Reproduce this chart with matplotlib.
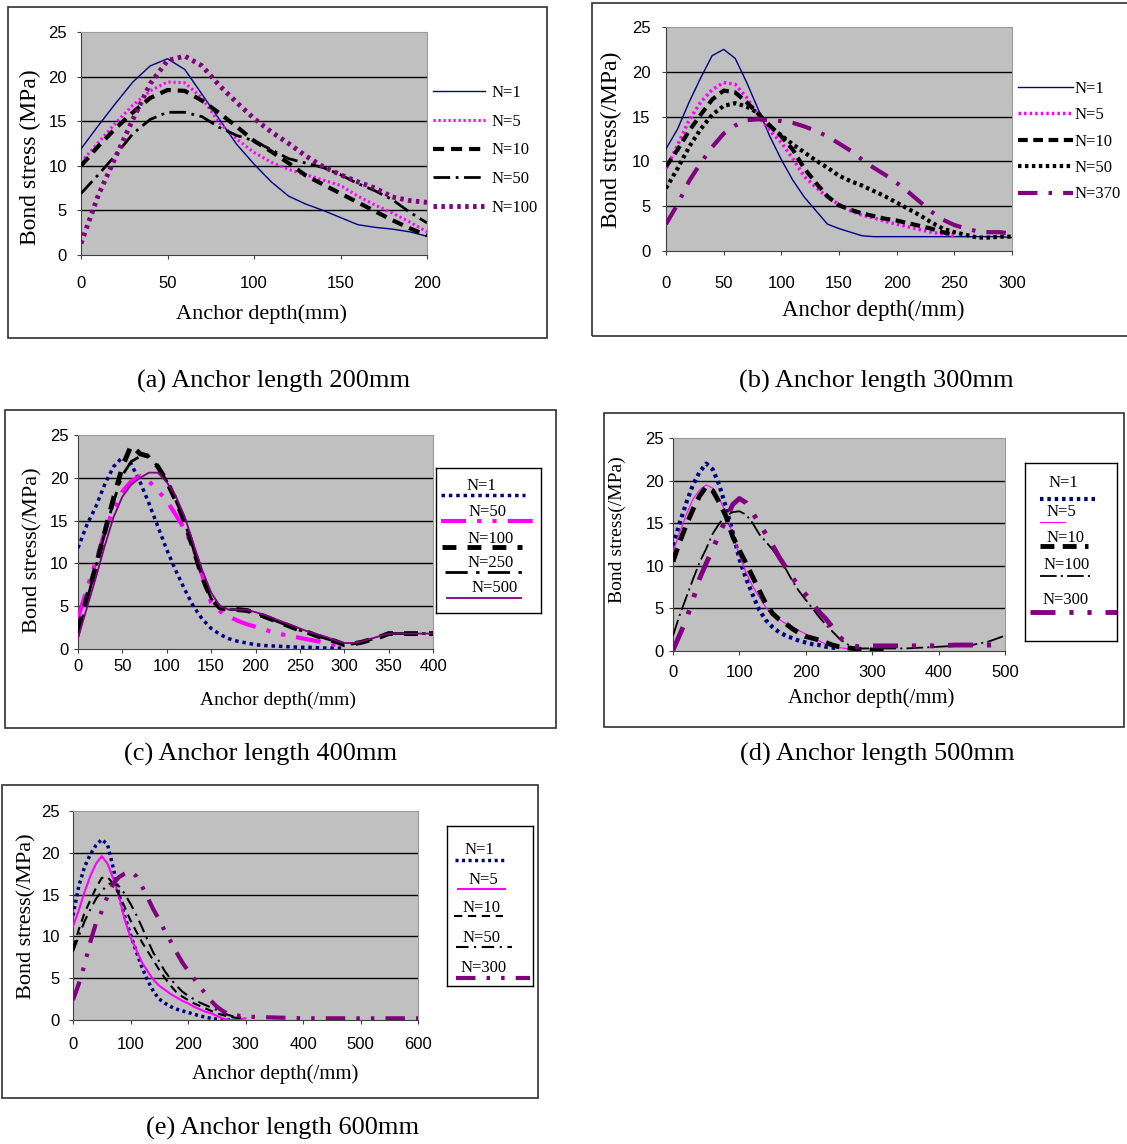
import matplotlib
matplotlib.use("Agg")
import matplotlib.pyplot as plt
from matplotlib.patches import Rectangle

plt.rcParams['font.family'] = ['Liberation Sans', 'DejaVu Sans']
plt.rcParams['lines.scale_dashes'] = False

SERIF = ['Liberation Serif', 'DejaVu Serif']
NAVY, MAGENTA, BLACK, PURPLE = '#000080', '#FF00FF', '#000000', '#800080'
PLOT_BG = '#C0C0C0'
grid_levels = [5, 10, 15, 20]

# ---------------- (a) anchor length 200 mm ----------------
a_x = [0, 10, 20, 30, 40, 50, 60, 70, 80, 90, 100, 110, 120, 130, 140, 150, 160, 170, 180, 190, 200]
a_labels = ['N=1', 'N=5', 'N=10', 'N=50', 'N=100']
a_n1 = [11.9, 14.5, 17.0, 19.4, 21.2, 22.0, 20.8, 18.0, 15.2, 12.4, 10.2, 8.2, 6.6, 5.7, 5.0, 4.2, 3.4, 3.1, 2.9, 2.6, 2.1]
a_n5 = [10.4, 12.6, 14.8, 16.8, 18.4, 19.4, 19.3, 17.6, 14.8, 13.0, 11.5, 10.4, 9.6, 9.0, 8.4, 7.8, 6.6, 5.6, 4.7, 3.7, 2.6]
a_n10 = [10.0, 12.2, 14.2, 16.0, 17.6, 18.5, 18.4, 17.3, 15.9, 14.4, 12.8, 11.6, 10.3, 8.9, 7.9, 6.9, 5.9, 4.9, 3.9, 3.0, 2.2]
a_n50 = [6.9, 9.0, 11.2, 13.6, 15.2, 16.0, 16.0, 15.5, 14.3, 13.4, 12.8, 11.8, 10.8, 10.3, 9.8, 9.0, 8.0, 7.2, 6.2, 4.8, 3.6]
a_n100 = [1.3, 6.7, 11.0, 15.2, 19.2, 21.8, 22.3, 21.2, 19.0, 17.1, 15.3, 13.8, 12.5, 11.1, 9.9, 9.0, 8.2, 7.5, 6.5, 6.1, 5.9]

# ---------------- (b) anchor length 300 mm ----------------
b_x = [0, 10, 20, 30, 40, 50, 60, 70, 80, 90, 100, 110, 120, 130, 140, 150, 160, 170, 180, 190, 200,
       210, 220, 230, 240, 250, 260, 270, 280, 290, 300]
b_labels = ['N=1', 'N=5', 'N=10', 'N=50', 'N=370']
b_n1 = [11.4, 13.6, 16.6, 19.3, 21.8, 22.5, 21.5, 18.8, 15.8, 12.8, 10.2, 7.9, 6.0, 4.5, 3.0, 2.5, 2.1,
        1.7, 1.6, 1.6, 1.6, 1.6, 1.6, 1.6, 1.6, 1.6, 1.6, 1.6, 1.6, 1.6, 1.5]
b_n5 = [9.2, 11.8, 14.6, 16.6, 18.0, 18.8, 18.6, 17.1, 15.1, 13.4, 12.1, 10.3, 8.3, 7.1, 6.0, 5.2, 4.5,
        4.0, 3.7, 3.3, 3.0, 2.7, 2.4, 2.1, 1.9, 1.7]
b_n10 = [9.4, 11.3, 13.4, 15.2, 16.9, 17.9, 17.7, 16.6, 15.3, 14.0, 12.8, 11.3, 9.2, 7.6, 6.1, 5.1, 4.6,
         4.2, 3.9, 3.6, 3.4, 3.1, 2.8, 2.5, 2.1, 1.8]
b_n50 = [7.0, 9.2, 11.6, 13.6, 15.2, 16.2, 16.5, 16.1, 15.4, 13.9, 12.9, 11.9, 11.0, 10.1, 9.3, 8.4, 7.8,
         7.3, 6.7, 6.1, 5.4, 4.7, 4.0, 3.2, 2.5, 2.1, 1.8, 1.5, 1.5, 1.6, 1.6]
b_n370 = [3.0, 5.2, 7.8, 9.8, 11.6, 13.1, 14.0, 14.6, 14.7, 14.6, 14.5, 14.3, 13.9, 13.4, 12.8, 12.0, 11.2,
          10.2, 9.3, 8.5, 7.6, 6.6, 5.5, 4.4, 3.5, 2.9, 2.5, 2.2, 2.1, 2.1, 1.9]

# ---------------- (c) anchor length 400 mm ----------------
c_x = [0, 10, 20, 30, 40, 50, 60, 70, 80, 90, 100, 110, 120, 130, 140, 150, 160, 170, 180, 190, 200,
       210, 220, 230, 240, 250, 260, 270, 280, 290, 300, 310, 320, 330, 340, 350, 360, 370, 380, 390, 400]
c_labels = ['N=1', 'N=50', 'N=100', 'N=250', 'N=500']
c_n1 = [11.8, 14.5, 16.6, 19.2, 21.3, 22.4, 21.6, 19.5, 17.0, 14.3, 11.6, 9.2, 7.0, 5.0, 3.5, 2.4, 1.7,
        1.2, 0.9, 0.7, 0.5, 0.4, 0.35, 0.3, 0.25, 0.2, 0.2, 0.15, 0.1, 0.1, 0.1]
c_n50 = [3.6, 7.0, 10.2, 13.6, 16.4, 18.4, 19.6, 20.2, 19.6, 18.5, 17.3, 15.7, 14.0, 11.8, 8.6, 5.4, 4.4,
         3.8, 3.3, 2.9, 2.6, 2.3, 1.9, 1.7, 1.5, 1.3, 1.1, 0.9, 0.7, 0.5, 0.4]
c_n100 = [2.2, 6.0, 9.6, 13.6, 17.6, 21.3, 23.8, 22.8, 22.5, 21.3, 19.6, 17.4, 14.9, 11.7, 8.4, 5.9, 4.8,
          4.6, 4.6, 4.5, 4.2, 3.8, 3.4, 3.0, 2.6, 2.2, 1.9, 1.5, 1.2, 0.9, 0.5, 0.6, 0.8, 1.1, 1.4, 1.8,
          1.8, 1.8, 1.8, 1.8, 1.8]
c_n250 = [1.5, 5.6, 9.6, 13.5, 17.2, 20.3, 21.9, 22.5, 22.5, 21.3, 19.6, 17.4, 14.9, 11.7, 8.4, 5.9, 4.8,
          4.6, 4.6, 4.5, 4.2, 3.8, 3.4, 3.0, 2.6, 2.2, 1.9, 1.5, 1.2, 0.9, 0.5, 0.6, 0.8, 1.1, 1.4, 1.8,
          1.8, 1.8, 1.8, 1.8, 1.8]
c_n500 = [1.3, 4.8, 8.3, 12.0, 15.4, 17.8, 19.2, 20.0, 20.6, 20.6, 19.5, 17.9, 15.5, 12.3, 9.2, 6.6, 5.0,
          4.6, 4.6, 4.6, 4.3, 4.0, 3.6, 3.2, 2.8, 2.4, 2.0, 1.7, 1.4, 1.0, 0.7, 0.7, 0.9, 1.2, 1.5, 1.8,
          1.8, 1.8, 1.8, 1.8, 1.8]

# ---------------- (d) anchor length 500 mm ----------------
d_x = [0, 10, 20, 30, 40, 50, 60, 70, 80, 90, 100, 110, 120, 130, 140, 150, 160, 170, 180, 190, 200,
       210, 220, 230, 240, 250, 260, 270, 280, 290, 300, 325, 350, 375, 400, 425, 450, 475, 500]
d_labels = ['N=1', 'N=5', 'N=10', 'N=100', 'N=300']
d_n1 = [12.4, 15.0, 17.4, 19.5, 21.0, 22.0, 21.3, 19.4, 16.8, 13.9, 10.8, 8.5, 6.6, 4.8, 3.6, 2.8, 2.2,
        1.8, 1.5, 1.2, 1.0, 0.8, 0.7, 0.5, 0.4, 0.3]
d_n5 = [11.6, 13.9, 16.0, 17.8, 18.9, 19.5, 19.1, 17.8, 16.2, 13.6, 11.2, 9.2, 7.6, 6.3, 5.1, 4.3, 3.7,
        3.2, 2.8, 2.4, 2.0, 1.6, 1.2, 0.8, 0.6, 0.4, 0.3, 0.3, 0.3, 0.3, 0.3]
d_n10 = [10.5, 12.8, 14.8, 16.6, 18.2, 19.3, 18.8, 17.4, 15.8, 13.4, 11.8, 10.3, 8.7, 7.1, 5.5, 4.4, 3.7,
         3.2, 2.6, 2.1, 1.7, 1.5, 1.3, 1.0, 0.7, 0.5, 0.4, 0.3, 0.2, 0.2, 0.1, 0.1]
d_n100 = [1.8, 4.2, 6.3, 8.4, 10.4, 12.0, 13.8, 15.0, 15.9, 16.3, 16.4, 16.0, 15.0, 13.7, 12.8, 11.9, 10.8,
          9.6, 8.2, 7.0, 6.0, 5.0, 4.0, 3.1, 2.3, 1.5, 0.9, 0.5, 0.3, 0.3, 0.3, 0.3, 0.3, 0.4, 0.5, 0.6,
          0.7, 1.1, 1.8]
d_n300 = [0.1, 1.9, 3.7, 6.0, 8.5, 10.3, 12.0, 13.8, 15.5, 17.2, 17.9, 17.4, 16.2, 15.0, 13.7, 12.4, 11.0,
          9.8, 8.6, 7.5, 6.6, 5.6, 4.6, 3.8, 2.8, 1.7, 1.0, 0.6, 0.5, 0.5, 0.6, 0.6, 0.6, 0.6, 0.6, 0.7,
          0.7, 0.7, 0.7]

# ---------------- (e) anchor length 600 mm ----------------
e_x = [0, 10, 20, 30, 40, 50, 60, 70, 80, 90, 100, 110, 120, 130, 140, 150, 160, 170, 180, 190, 200,
       210, 220, 230, 240, 250, 260, 270, 280, 290, 300, 350, 400, 450, 500, 550, 600]
e_labels = ['N=1', 'N=5', 'N=10', 'N=50', 'N=300']
e_n1 = [12.5, 16.0, 18.3, 19.8, 20.9, 21.6, 21.0, 18.2, 15.0, 12.4, 10.2, 8.2, 6.3, 4.7, 3.4, 2.5, 2.0,
        1.6, 1.3, 1.1, 0.9, 0.7, 0.5, 0.35, 0.2, 0.1, 0.05, 0.0, 0.0]
e_n5 = [11.2, 13.1, 15.3, 17.2, 18.7, 19.6, 18.7, 16.9, 14.8, 12.0, 9.9, 8.4, 6.9, 5.8, 4.8, 4.1, 3.6,
        3.1, 2.7, 2.3, 2.0, 1.6, 1.3, 1.0, 0.8, 0.5, 0.2, 0.0, 0.0, 0.1, 0.2]
e_n10 = [8.6, 10.8, 12.8, 14.3, 15.8, 17.0, 17.1, 16.3, 15.0, 13.5, 11.9, 10.6, 9.3, 8.2, 7.1, 6.0, 5.0,
         4.1, 3.3, 2.8, 2.4, 2.0, 1.7, 1.4, 1.1, 0.8, 0.6, 0.4, 0.3, 0.2, 0.2]
e_n50 = [8.2, 10.0, 11.8, 13.2, 14.5, 15.4, 16.2, 16.4, 16.0, 15.1, 13.9, 12.6, 11.1, 9.5, 8.0, 7.0, 5.8,
         4.9, 4.1, 3.4, 2.9, 2.5, 2.1, 1.8, 1.5, 1.2, 0.9, 0.6, 0.4, 0.3, 0.2]
e_n300 = [2.4, 4.3, 6.6, 9.3, 11.6, 13.0, 14.8, 16.3, 17.1, 17.5, 17.8, 17.2, 16.0, 14.6, 13.2, 12.0, 10.6,
          9.4, 8.1, 6.9, 5.9, 5.0, 4.0, 3.2, 2.3, 1.6, 1.1, 0.7, 0.6, 0.5, 0.4, 0.3, 0.2, 0.2, 0.2, 0.2, 0.2]

# line styles (Excel-like)
a_styles = [dict(color=NAVY, lw=1.0, ls='-'),
            dict(color=MAGENTA, lw=2.2, ls=(0, (1.6, 2.0))),
            dict(color=BLACK, lw=3.0, ls=(0, (8, 5))),
            dict(color=BLACK, lw=2.0, ls=(0, (12, 4, 2, 4))),
            dict(color=PURPLE, lw=3.5, ls=(0, (2.5, 3.2)))]
b_styles = [dict(color=NAVY, lw=1.0, ls='-'),
            dict(color=MAGENTA, lw=2.5, ls=(0, (1.8, 2.2))),
            dict(color=BLACK, lw=3.0, ls=(0, (7, 4))),
            dict(color=BLACK, lw=3.0, ls=(0, (2.5, 2.5))),
            dict(color=PURPLE, lw=3.0, ls=(0, (14, 8, 2.5, 8)))]
c_styles = [dict(color=NAVY, lw=2.5, ls=(0, (2.5, 2.8))),
            dict(color=MAGENTA, lw=3.0, ls=(0, (18, 8, 3, 8, 3, 8))),
            dict(color=BLACK, lw=3.5, ls=(0, (10, 8))),
            dict(color=BLACK, lw=2.0, ls=(0, (16, 6, 2.5, 6))),
            dict(color=PURPLE, lw=1.3, ls='-')]
d_styles = [dict(color=NAVY, lw=3.0, ls=(0, (2.5, 2.8))),
            dict(color=MAGENTA, lw=0.8, ls='-'),
            dict(color=BLACK, lw=3.5, ls=(0, (10, 6))),
            dict(color=BLACK, lw=1.3, ls=(0, (12, 3, 1.5, 3))),
            dict(color=PURPLE, lw=3.5, ls=(0, (18, 10, 3, 10, 3, 10)))]
e_styles = [dict(color=NAVY, lw=2.5, ls=(0, (2.2, 2.5))),
            dict(color=MAGENTA, lw=1.5, ls='-'),
            dict(color=BLACK, lw=1.5, ls=(0, (6, 4))),
            dict(color=BLACK, lw=1.5, ls=(0, (9, 4, 1.5, 4))),
            dict(color=PURPLE, lw=3.0, ls=(0, (14, 8, 2.5, 8, 2.5, 8)))]

W, H = 1127, 1144
fig = plt.figure(figsize=(W / 100, H / 100), dpi=100)
fig.patch.set_facecolor('white')


def px(x0, y0, x1, y1):
    # pixel box (top-left origin) -> figure fraction rect
    return [x0 / W, 1 - y1 / H, (x1 - x0) / W, (y1 - y0) / H]


def frame(x0, y0, x1, y1):
    fig.patches.append(Rectangle((x0 / W, 1 - y1 / H), (x1 - x0) / W, (y1 - y0) / H,
                                 transform=fig.transFigure, fill=False,
                                 edgecolor='#303030', lw=1.2))


def panel(box, plot, x, series, styles, labels, xmax, xstep, xpad, ypad):
    frame(*box)
    ax = fig.add_axes(px(*plot))
    ax.set_facecolor(PLOT_BG)
    for lvl in grid_levels:
        ax.axhline(lvl, color='black', lw=1.0, zorder=1)
    lines = []
    for y, st, lab in zip(series, styles, labels):
        ln, = ax.plot(x[:len(y)], y, label=lab, zorder=3, **st)
        lines.append(ln)
    ax.set_xlim(0, xmax)
    ax.set_ylim(0, 25)
    ax.set_xticks(range(0, xmax + 1, xstep))
    ax.set_yticks(range(0, 26, 5))
    ax.tick_params(axis='x', direction='out', length=3, pad=xpad, labelsize=12, color='#404040')
    ax.tick_params(axis='y', direction='out', length=3, pad=ypad, labelsize=12, color='#404040')
    for side in ('left', 'bottom'):
        ax.spines[side].set_color('#404040')
    for side in ('top', 'right'):
        ax.spines[side].set_color('#9a9a9a')
    return ax, lines


def axis_text(x, y, s, size, rot=0):
    fig.text(x / W, 1 - y / H, s, ha='center', va='center', rotation=rot,
             family=SERIF, fontsize=size)


def box_legend(box, styles, labels, layout, size=12):
    lg = fig.add_axes(px(*box))
    lg.set_xlim(0, 1)
    lg.set_ylim(1, 0)
    lg.set_xticks([])
    lg.set_yticks([])
    lg.set_facecolor('white')
    for s in lg.spines.values():
        s.set_color('black')
        s.set_linewidth(1.0)
    for st, lab, (tx, ty, x0, x1, yl) in zip(styles, labels, layout):
        lg.plot([x0, x1], [yl, yl], clip_on=False, **st)
        lg.text(tx, ty, lab, ha='center', va='center', family=SERIF, fontsize=size)


# (a)
ax_a, lines_a = panel((8, 7, 547, 338), (81, 32, 427, 255), a_x,
                      [a_n1, a_n5, a_n10, a_n50, a_n100], a_styles, a_labels, 200, 50, 12, 7)
ax_a.legend(lines_a, a_labels, loc='upper left', bbox_to_anchor=(433 / W, 1 - 85 / H),
            bbox_transform=fig.transFigure, frameon=False, borderpad=0, borderaxespad=0,
            handlelength=3.1, handletextpad=0.4, labelspacing=0.76,
            prop={'family': SERIF, 'size': 12})
axis_text(30, 157, 'Bond stress (MPa)', 17, 90)
axis_text(262, 314, 'Anchor depth(mm)', 16)

# (b)
ax_b, lines_b = panel((592, 3, 1140, 336), (666, 27, 1012, 251), b_x,
                      [b_n1, b_n5, b_n10, b_n50, b_n370], b_styles, b_labels, 300, 50, 15, 8)
ax_b.legend(lines_b, b_labels, loc='upper left', bbox_to_anchor=(1018 / W, 1 - 81 / H),
            bbox_transform=fig.transFigure, frameon=False, borderpad=0, borderaxespad=0,
            handlelength=3.3, handletextpad=0.1, labelspacing=0.62,
            prop={'family': SERIF, 'size': 12})
axis_text(611, 140, 'Bond stress(/MPa)', 17, 90)
axis_text(873, 310, 'Anchor depth(/mm)', 16.5)

# (c)
ax_c, lines_c = panel((5, 410, 556, 728), (78, 435, 433, 649), c_x,
                      [c_n1, c_n50, c_n100, c_n250, c_n500], c_styles, c_labels, 400, 50, 4, 4)
box_legend((436, 468, 541, 613), c_styles, c_labels,
           [(0.43, 0.124, 0.05, 0.85, 0.186), (0.49, 0.303, 0.05, 0.93, 0.366),
            (0.52, 0.49, 0.06, 0.82, 0.545), (0.52, 0.655, 0.09, 0.87, 0.717),
            (0.56, 0.827, 0.10, 0.81, 0.897)])
axis_text(33, 550, 'Bond stress(/MPa)', 16, 90)
axis_text(278, 700, 'Anchor depth(/mm)', 14)

# (d)
ax_d, lines_d = panel((604, 413, 1124, 727), (673, 438, 1005, 651), d_x,
                      [d_n1, d_n5, d_n10, d_n100, d_n300], d_styles, d_labels, 500, 100, 7, 3.5)
box_legend((1025, 463, 1117, 641), d_styles, d_labels,
           [(0.42, 0.115, 0.16, 0.78, 0.204), (0.40, 0.274, 0.16, 0.44, 0.33),
            (0.44, 0.423, 0.16, 0.69, 0.469), (0.45, 0.572, 0.16, 0.72, 0.633),
            (0.44, 0.771, 0.055, 1.0, 0.838)])
axis_text(617, 530, 'Bond stress(/MPa)', 14, 90)
axis_text(871, 698, 'Anchor depth(/mm)', 15)

# (e)
ax_e, lines_e = panel((2, 785, 538, 1098), (73, 811, 418, 1020), e_x,
                      [e_n1, e_n5, e_n10, e_n50, e_n300], e_styles, e_labels, 600, 100, 9, 6.5)
box_legend((447, 826, 533, 986), e_styles, e_labels,
           [(0.38, 0.15, 0.09, 0.67, 0.212), (0.42, 0.338, 0.13, 0.68, 0.394),
            (0.40, 0.513, 0.08, 0.65, 0.562), (0.40, 0.70, 0.10, 0.76, 0.756),
            (0.42, 0.887, 0.10, 0.96, 0.95)])
axis_text(27, 916, 'Bond stress(/MPa)', 16, 90)
axis_text(275, 1074, 'Anchor depth(/mm)', 15)

# captions
for cx, cy, txt in [(274, 381, '(a) Anchor length 200mm'), (876, 381, '(b) Anchor length 300mm'),
                    (261, 754, '(c) Anchor length 400mm'), (877, 754, '(d) Anchor length 500mm'),
                    (283, 1128, '(e) Anchor length 600mm')]:
    fig.text(cx / W, 1 - cy / H, txt, ha='center', va='center', family=SERIF, fontsize=19)

fig.savefig('out.png', dpi=100, facecolor='white')
